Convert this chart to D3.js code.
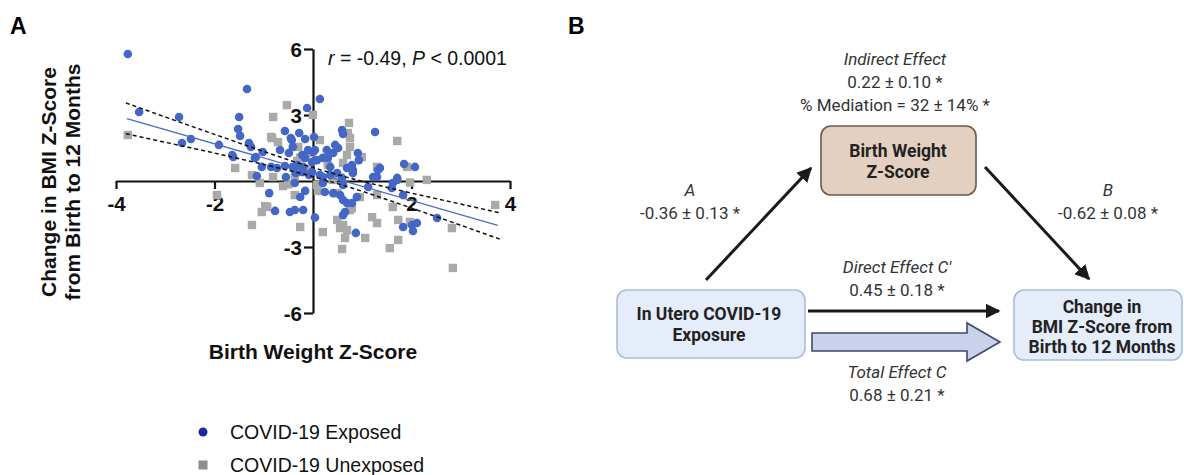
<!DOCTYPE html>
<html><head><meta charset="utf-8">
<script src="https://cdn.jsdelivr.net/npm/d3@7"></script>
<style>
body{margin:0;background:#fff;}
svg{display:block;}
</style></head>
<body>
<svg id="chart" width="1184" height="475"></svg>
<script>
// ---------- DATA ----------
const exposed = [
[-3.76,5.77],[-1.34,4.18],[-3.53,3.14],[-2.72,2.91],[-2.66,1.73],[-2.48,1.91],[-1.91,1.64],[-1.64,1.18],
[-1.50,2.91],[-1.52,2.36],[-1.48,2.05],[-1.30,1.73],[-1.26,1.55],[-1.16,1.09],[-1.02,1.32],[-1.04,0.64],
[-0.85,0.64],[-0.73,0.59],[-0.57,0.68],[-0.67,1.41],[-0.57,2.27],[-0.43,1.86],[-0.41,1.55],[-0.49,1.27],
[-0.32,0.73],[-0.22,0.41],[-0.28,2.18],[-0.12,3.32],[-1.14,0.23],[-0.16,1.91],[-0.45,1.95],[-0.10,1.41],
[-0.22,1.18],[0.00,1.32],[-1.62,1.09],[-1.18,1.05],[-0.41,0.64],[-0.20,0.64],[-0.16,1.05],[-0.02,0.86],
[-0.08,0.27],[0.14,3.73],[0.59,2.32],[0.61,2.14],[1.26,2.23],[0.02,2.00],[0.04,1.41],[0.28,1.41],
[0.41,1.27],[0.51,1.50],[0.20,1.05],[0.30,1.05],[0.91,1.27],[0.93,0.95],[1.85,0.77],[2.07,0.64],
[0.69,0.59],[0.81,0.50],[1.36,0.59],[1.30,0.18],[1.71,0.14],[0.45,1.64],[0.79,0.73],[0.08,0.95],
[0.35,0.64],[-0.02,0.41],[0.14,0.27],[1.22,0.18],[-0.37,-0.09],[-0.89,-0.55],[-0.77,-1.36],[-0.47,-1.41],
[-0.37,-1.32],[-0.20,-1.32],[-0.16,-0.45],[-0.26,-0.73],[0.04,-1.66],[0.24,-0.50],[0.41,-0.55],[0.55,-0.64],
[0.61,-0.86],[0.69,-1.00],[0.65,-1.41],[0.61,-1.55],[0.79,-1.00],[0.89,-0.73],[0.59,0.14],[0.61,-0.18],
[0.81,0.36],[1.12,-0.27],[1.26,0.18],[1.62,-0.09],[1.71,0.05],[0.87,-2.36],[1.83,-2.09],[2.01,-2.00],
[2.11,-1.91],[2.52,-1.68],[2.03,-2.27],[1.60,-0.32],[1.83,-0.64],[1.32,0.50],[0.20,0.18],[0.35,0.27],
[0.49,0.36],[-0.35,0.36],[-0.55,0.18],[0.20,-0.09]
];
const unexposed = [
[-3.76,2.09],[-0.81,2.91],[-0.53,3.45],[-0.85,2.00],[-0.71,1.77],[-1.58,0.59],[-1.24,0.27],[-0.81,0.18],
[-0.26,1.05],[0.00,3.00],[-0.83,1.95],[-0.30,1.55],[-0.32,0.91],[-0.37,0.18],[-0.26,0.41],[0.73,2.64],
[0.71,2.18],[0.75,1.95],[1.71,1.82],[0.75,1.55],[0.69,1.18],[0.61,0.82],[0.14,1.86],[-0.06,1.27],
[0.99,1.09],[1.30,0.64],[1.91,0.64],[2.31,0.05],[0.30,0.73],[-1.08,-0.09],[-0.61,-0.23],[-0.37,-0.64],
[-0.97,-1.14],[-1.04,-1.41],[-1.24,-2.00],[-0.26,-2.09],[-1.95,-0.64],[-0.93,-1.18],[1.97,-0.07],[1.30,-0.64],
[0.95,-0.73],[1.62,-1.18],[1.20,-1.64],[1.30,-1.91],[1.73,-1.77],[1.97,-1.86],[0.49,-1.77],[0.61,-2.00],
[0.69,-2.23],[0.55,-2.14],[0.20,-2.32],[0.65,-2.59],[0.59,-3.09],[1.06,-2.59],[1.73,-2.68],[1.56,-3.05],
[0.75,-1.32],[0.49,-0.55],[0.08,-0.18],[3.70,-1.09],[2.84,-3.95],[2.82,-2.14],[0.79,-1.23],[-0.10,0.55],
[0.10,-0.45],[0.40,0.05],[-0.50,-0.15]
];
// regression fit and 95% confidence band
const fitX = [-3.78, 3.75];
const fitY = [2.84, -2.02];
const bandX = [-3.8, -3, -2, -1, 0, 1, 2, 3, 3.8];
const bandUpper = [3.55, 2.91, 2.12, 1.34, 0.61, -0.01, -0.55, -1.05, -1.45];
const bandLower = [2.15, 1.76, 1.27, 0.75, 0.20, -0.47, -1.23, -2.01, -2.65];
const xTicks = [-4, -2, 2, 4];
const yTicks = [-6, -3, 3, 6];
const statText = ["r", " = -0.49, ", "P", " < 0.0001"];
const legendLabels = ["COVID-19 Exposed", "COVID-19 Unexposed"];

// mediation diagram content
const indirectLines = ["Indirect Effect", "0.22 ± 0.10 *", "% Mediation = 32 ± 14% *"];
const pathA = ["A", "-0.36 ± 0.13 *"];
const pathB = ["B", "-0.62 ± 0.08 *"];
const directLines = ["Direct Effect C'", "0.45 ± 0.18 *"];
const totalLines = ["Total Effect C", "0.68 ± 0.21 *"];
const mediatorBox = ["Birth Weight", "Z-Score"];
const exposureBox = ["In Utero COVID-19", "Exposure"];
const outcomeBox = ["Change in", "BMI Z-Score from", "Birth to 12 Months"];

// ---------- PANEL A ----------
const svg = d3.select("#chart");
const AF = "'Liberation Sans', Arial, sans-serif";
const BF = "Roboto, 'Liberation Sans', sans-serif";

const x = d3.scaleLinear().domain([-4, 4]).range([116, 510]);
const y = d3.scaleLinear().domain([-6, 6]).range([313, 49]);

svg.append("text").attr("x", 10).attr("y", 34).text("A")
  .attr("font-family", AF).attr("font-weight", "bold").attr("font-size", 23);
svg.append("text").attr("x", 568).attr("y", 34).text("B")
  .attr("font-family", AF).attr("font-weight", "bold").attr("font-size", 23);

const gx = svg.append("g").attr("transform", `translate(0,${y(0)})`)
  .call(d3.axisBottom(x).tickValues(xTicks).tickSize(8).tickPadding(7).tickSizeOuter(0).tickFormat(d3.format("d")));
const gy = svg.append("g").attr("transform", `translate(${x(0)},0)`)
  .call(d3.axisLeft(y).tickValues(yTicks).tickSize(9).tickPadding(2).tickSizeOuter(0).tickFormat(d3.format("d")));
[gx, gy].forEach(g => {
  g.select(".domain").attr("stroke", "#111").attr("stroke-width", 2.2);
  g.selectAll(".tick line").attr("stroke", "#111").attr("stroke-width", 2.2);
  g.selectAll(".tick text").attr("font-family", AF).attr("font-weight", "bold")
    .attr("font-size", 20.5).attr("fill", "#111");
});
gx.selectAll(".tick text").text(d => d < 0 ? "-" + Math.abs(d) : d);
gy.selectAll(".tick text").text(d => d < 0 ? "-" + Math.abs(d) : d).attr("dy", "0.36em");

// points
svg.append("g").selectAll("rect").data(unexposed).join("rect")
  .attr("x", d => x(d[0]) - 4.2).attr("y", d => y(d[1]) - 4.2)
  .attr("width", 8.4).attr("height", 8.4).attr("fill", "#a9a9a9");
svg.append("g").selectAll("circle").data(exposed).join("circle")
  .attr("cx", d => x(d[0])).attr("cy", d => y(d[1])).attr("r", 4.3).attr("fill", "#4466c4");

// fit line and band
svg.append("line").attr("x1", x(fitX[0])).attr("y1", y(fitY[0]))
  .attr("x2", x(fitX[1])).attr("y2", y(fitY[1]))
  .attr("stroke", "#4a6bc9").attr("stroke-width", 1.3);
const bandLine = vals => d3.line().x((d, i) => x(bandX[i])).y(d => y(d)).curve(d3.curveMonotoneX)(vals);
[bandUpper, bandLower].forEach(v => {
  svg.append("path").attr("d", bandLine(v)).attr("fill", "none")
    .attr("stroke", "#111").attr("stroke-width", 1.5).attr("stroke-dasharray", "4,3");
});

// stat text
const st = svg.append("text").attr("x", 328).attr("y", 65)
  .attr("font-family", AF).attr("font-size", 19.5).attr("fill", "#111");
statText.forEach((s, i) => st.append("tspan").text(s).attr("font-style", (i % 2 === 0) ? "italic" : "normal"));

// axis titles
svg.append("text").attr("x", 313).attr("y", 359).attr("text-anchor", "middle")
  .attr("font-family", AF).attr("font-weight", "bold").attr("font-size", 21).attr("fill", "#111")
  .text("Birth Weight Z-Score");
const yt = svg.append("text").attr("transform", "translate(0,182) rotate(-90)")
  .attr("text-anchor", "middle").attr("font-family", AF).attr("font-weight", "bold")
  .attr("font-size", 21).attr("fill", "#111");
yt.append("tspan").attr("x", 0).attr("y", 56).text("Change in BMI Z-Score");
yt.append("tspan").attr("x", 0).attr("y", 80).text("from Birth to 12 Months");

// legend
const lg = svg.append("g");
lg.append("circle").attr("cx", 203).attr("cy", 432).attr("r", 4.5).attr("fill", "#1b2a97");
lg.append("rect").attr("x", 198.5).attr("y", 460.5).attr("width", 9).attr("height", 9).attr("fill", "#8e8e8e");
lg.selectAll("text").data(legendLabels).join("text")
  .attr("x", 230).attr("y", (d, i) => 439 + i * 33).text(d => d)
  .attr("font-family", AF).attr("font-size", 19.5).attr("fill", "#111");

// ---------- PANEL B ----------
const defs = svg.append("defs");
defs.append("marker").attr("id", "ah").attr("viewBox", "0 0 10 10").attr("refX", 9).attr("refY", 5)
  .attr("markerWidth", 5).attr("markerHeight", 5).attr("orient", "auto").attr("markerUnits", "strokeWidth")
  .append("path").attr("d", "M0,0 L10,5 L0,10 Z").attr("fill", "#1a1a1a");

function textBlock(lines, cx, y0, dy, opts) {
  lines.forEach((t, i) => {
    svg.append("text").attr("x", cx).attr("y", y0 + i * dy).attr("text-anchor", "middle")
      .attr("font-family", BF).attr("font-size", opts.size || 17)
      .attr("font-style", (opts.italicFirst && i === 0) ? "italic" : "normal")
      .attr("font-weight", opts.bold ? "bold" : "normal")
      .attr("fill", opts.fill || "#333").text(t);
  });
}
function box(x0, y0, w, h, fill, stroke) {
  svg.append("rect").attr("x", x0).attr("y", y0).attr("width", w).attr("height", h)
    .attr("rx", 10).attr("fill", fill).attr("stroke", stroke).attr("stroke-width", 1.6);
}

textBlock(indirectLines, 895, 65, 23, {italicFirst: true});
box(821, 126, 155, 69, "#e3d0c1", "#6e5a4a");
textBlock(mediatorBox, 898, 157, 21, {bold: true, fill: "#222", size: 17.5});

box(617, 290, 188, 68, "#e4edf9", "#a9bfdd");
textBlock(exposureBox, 709, 320, 21, {bold: true, fill: "#222", size: 17.5});
box(1014, 290, 168, 70, "#e4edf9", "#a9bfdd");
textBlock(outcomeBox, 1102, 313, 20, {bold: true, fill: "#222", size: 17.5});

textBlock(pathA, 690, 196, 23, {italicFirst: true});
textBlock(pathB, 1108, 196, 23, {italicFirst: true});
textBlock(directLines, 897, 273, 23, {italicFirst: true});
textBlock(totalLines, 897, 378, 23, {italicFirst: true});

// arrows
const arrow = (x1, y1, x2, y2) => svg.append("line").attr("x1", x1).attr("y1", y1).attr("x2", x2).attr("y2", y2)
  .attr("stroke", "#1a1a1a").attr("stroke-width", 3).attr("marker-end", "url(#ah)");
arrow(706, 280, 811, 168);
arrow(985, 167, 1089, 279);
arrow(808, 311, 999, 311);

// total effect block arrow
svg.append("path")
  .attr("d", "M812,333 L967,333 L967,323 L1000,342 L967,361 L967,351 L812,351 Z")
  .attr("fill", "#c9d2ea").attr("stroke", "#3c4a6b").attr("stroke-width", 1.6).attr("stroke-linejoin", "miter");
</script>
</body></html>
